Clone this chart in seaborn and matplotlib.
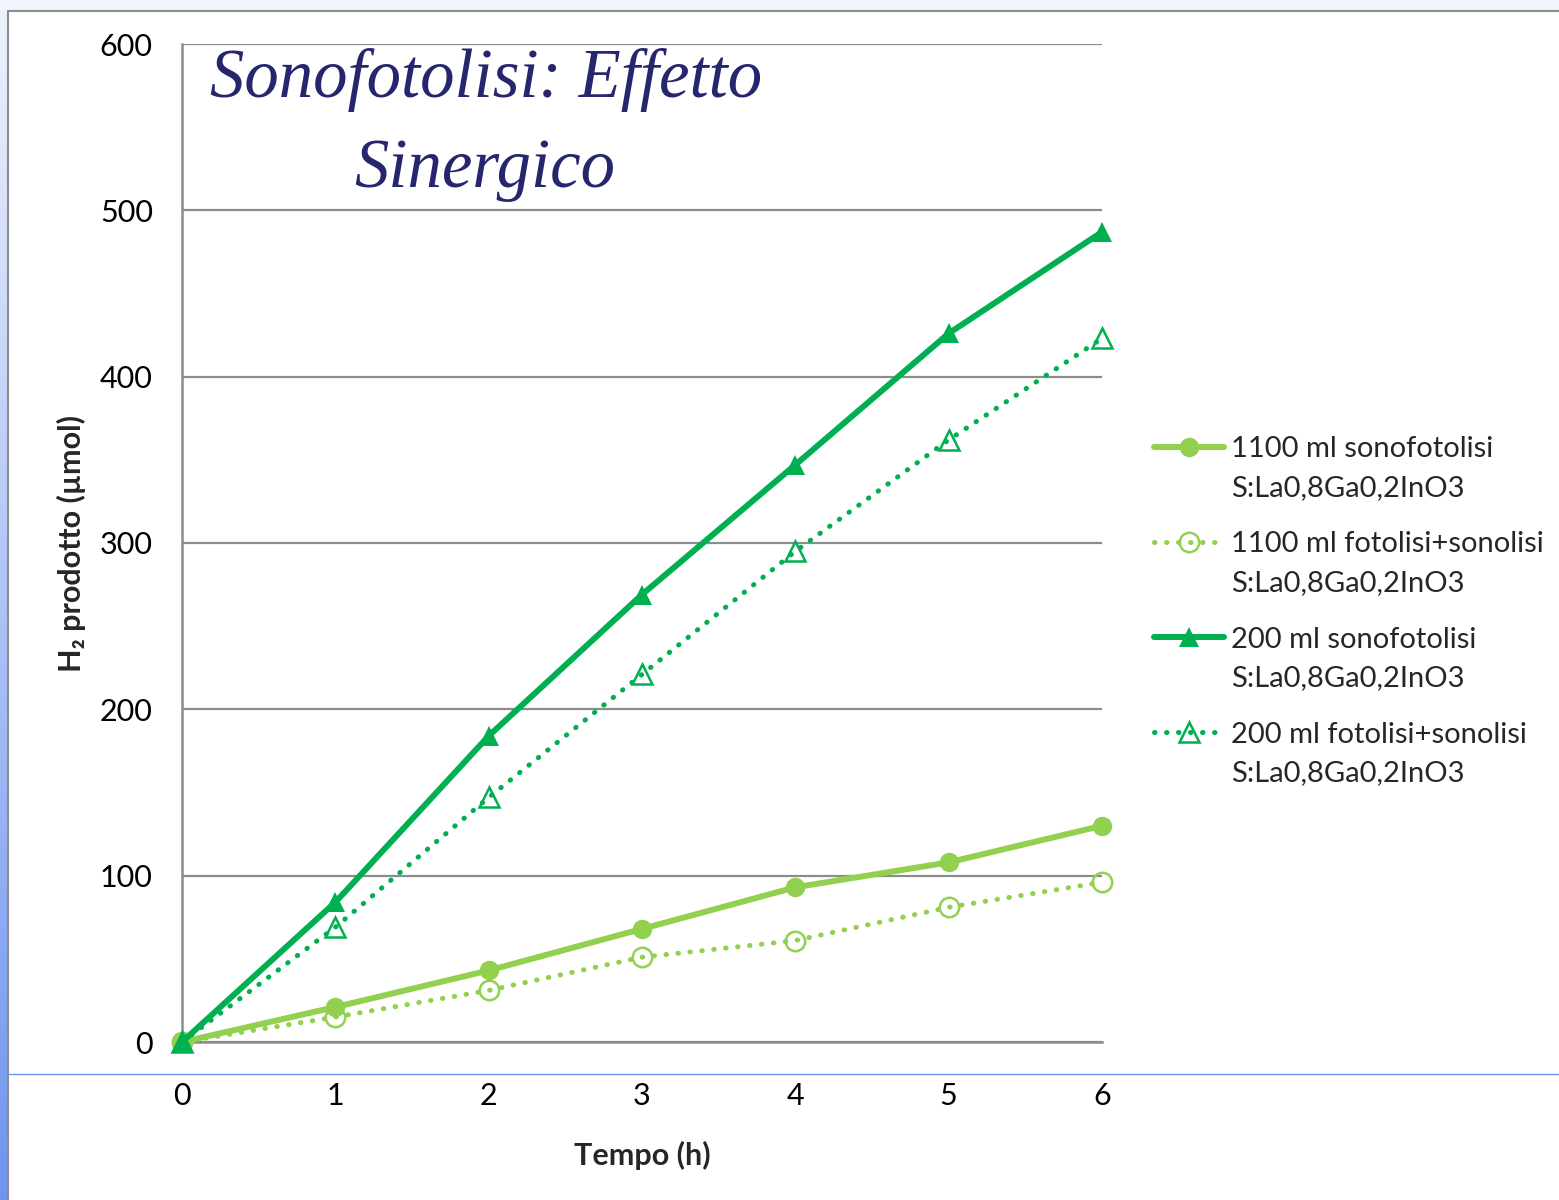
import matplotlib
matplotlib.use("Agg")
import matplotlib.pyplot as plt
import seaborn as sns
import pandas as pd
import numpy as np
from matplotlib.patches import Rectangle
from matplotlib.lines import Line2D
from matplotlib.legend_handler import HandlerLine2D

# ---- data ----
hours = [0, 1, 2, 3, 4, 5, 6]
sono_1100 = [0, 21, 43, 68, 93, 108, 130]
foto_sono_1100 = [0, 15, 31, 51, 61, 81, 96]
sono_200 = [0, 84, 184, 269, 347, 426, 487]
foto_sono_200 = [0, 69, 147, 221, 295, 362, 423]
series_labels = [
    "1100 ml sonofotolisi\nS:La0,8Ga0,2InO3",
    "1100 ml fotolisi+sonolisi\nS:La0,8Ga0,2InO3",
    "200 ml sonofotolisi\nS:La0,8Ga0,2InO3",
    "200 ml fotolisi+sonolisi\nS:La0,8Ga0,2InO3",
]
y_ticks = [0, 100, 200, 300, 400, 500, 600]
x_ticks = [0, 1, 2, 3, 4, 5, 6]
title_line1 = "Sonofotolisi: Effetto"
title_line2 = "Sinergico"
x_label = "Tempo (h)"
y_label = "H₂ prodotto (µmol)"

LIGHT = "#92D050"
DARK = "#00B050"
W, H = 1559, 1200

sns.set_theme(style="white")
plt.rcParams['font.family'] = ['Lato', 'DejaVu Sans']

fig = plt.figure(figsize=(15.59, 12), dpi=100)
fig.patch.set_facecolor("white")

# slide decorations
fig.patches.append(Rectangle((0, 1 - 11/H), 1, 11/H, transform=fig.transFigure,
                             facecolor="#F1F4FC", edgecolor="none", zorder=0))
grad = np.linspace(0, 1, 256).reshape(-1, 1)
bar_ax = fig.add_axes([0, 0, 8/W, 1])
bar_ax.imshow(grad, aspect="auto", cmap=matplotlib.colors.LinearSegmentedColormap.from_list(
    "b", ["#EEF2FD", "#6F95F0"]), extent=[0, 1, 0, 1], origin="upper")
bar_ax.axis("off")
fig.add_artist(Line2D([8/W, 8/W], [0, 1 - 11/H], transform=fig.transFigure,
                      color="#8C8C8C", lw=1.5))
fig.add_artist(Line2D([8/W, 1], [1 - 11/H, 1 - 11/H], transform=fig.transFigure,
                      color="#8C8C8C", lw=1.5))

ax = fig.add_axes([182/W, 1 - 1042/H, (1102 - 182)/W, (1042 - 44)/H])

fig.add_artist(Line2D([8/W, 1], [1 - 1074/H, 1 - 1074/H], transform=fig.transFigure,
                      color="#6F95F0", lw=1.0, zorder=5))

df = pd.DataFrame({
    "hours": hours * 4,
    "value": sono_1100 + foto_sono_1100 + sono_200 + foto_sono_200,
    "series": sum([[l] * len(hours) for l in series_labels], []),
})

DOT = (0, (0.1, 2.3))
styles = [
    dict(color=LIGHT, ls="-", marker="o", mfc=LIGHT, lw=4.3, ms=14, mew=0),
    dict(color=LIGHT, ls=DOT, marker="o", mfc="none", lw=3.6, ms=14, mew=1.8),
    dict(color=DARK, ls="-", marker="^", mfc=DARK, lw=4.3, ms=15, mew=0),
    dict(color=DARK, ls=DOT, marker="^", mfc="none", lw=3.6, ms=15, mew=1.8),
]

handles = []
for lab, st in zip(series_labels, styles):
    sub = df[df["series"] == lab]
    sns.lineplot(data=sub, x="hours", y="value", ax=ax, color=st["color"],
                 linestyle=st["ls"], linewidth=st["lw"], marker=st["marker"],
                 markersize=st["ms"], markerfacecolor=st["mfc"],
                 markeredgecolor=st["color"], markeredgewidth=st["mew"],
                 dash_capstyle="round", legend=False, clip_on=False, zorder=4)
    handles.append(Line2D([], [], color=st["color"], linestyle=st["ls"], linewidth=st["lw"],
                          marker=st["marker"], markersize=st["ms"], markerfacecolor=st["mfc"],
                          markeredgecolor=st["color"], markeredgewidth=st["mew"],
                          dash_capstyle="round"))

ax.set_xlim(0, 6)
ax.set_ylim(0, 600)
ax.set_xticks(x_ticks)
ax.set_yticks(y_ticks)
ax.set_xticklabels([str(t) for t in x_ticks], fontsize=22)
ax.set_yticklabels([str(t) for t in y_ticks], fontsize=22)
ax.yaxis.grid(True, color="#8C8C8C", linewidth=1.6)
ax.set_axisbelow(True)
for s in ["top", "right"]:
    ax.spines[s].set_visible(False)
for s in ["left", "bottom"]:
    ax.spines[s].set_color("#8C8C8C")
    ax.spines[s].set_linewidth(1.8)
ax.tick_params(axis="both", which="major", direction="out", length=7, width=1.6,
               color="#8C8C8C", labelcolor="black")
ax.tick_params(axis="x", pad=22)
ax.tick_params(axis="y", pad=14)

ax.set_xlabel(x_label, fontsize=22, fontweight="bold", labelpad=22)
ax.set_ylabel(y_label, fontsize=22, fontweight="bold", labelpad=10)

title_kw = dict(ha="center", va="baseline", fontsize=49.5, fontstyle="italic",
                color="#26266E", family=["Liberation Serif", "DejaVu Serif"])
fig.text(486/W, 1 - 97/H, title_line1, **title_kw)
fig.text(485/W, 1 - 187/H, title_line2, **title_kw)


class TopLineHandler(HandlerLine2D):
    def create_artists(self, legend, orig_handle, xdescent, ydescent, width, height,
                       fontsize, trans):
        arts = super().create_artists(legend, orig_handle, xdescent, ydescent, width,
                                      height, fontsize, trans)
        for a in arts:
            a.set_ydata(np.asarray(a.get_ydata()) + fontsize * 0.76)
        return arts


leg = ax.legend(handles=handles, labels=series_labels, loc="upper left",
                bbox_to_anchor=(1.0563, 0.607), frameon=False, fontsize=21,
                handlelength=2.4, handletextpad=0.25, labelspacing=1.05,
                borderaxespad=0, borderpad=0,
                handler_map={h: TopLineHandler() for h in handles})
for t in leg.get_texts():
    t.set_linespacing(1.6)

fig.savefig("out.png", dpi=100, facecolor="white")
